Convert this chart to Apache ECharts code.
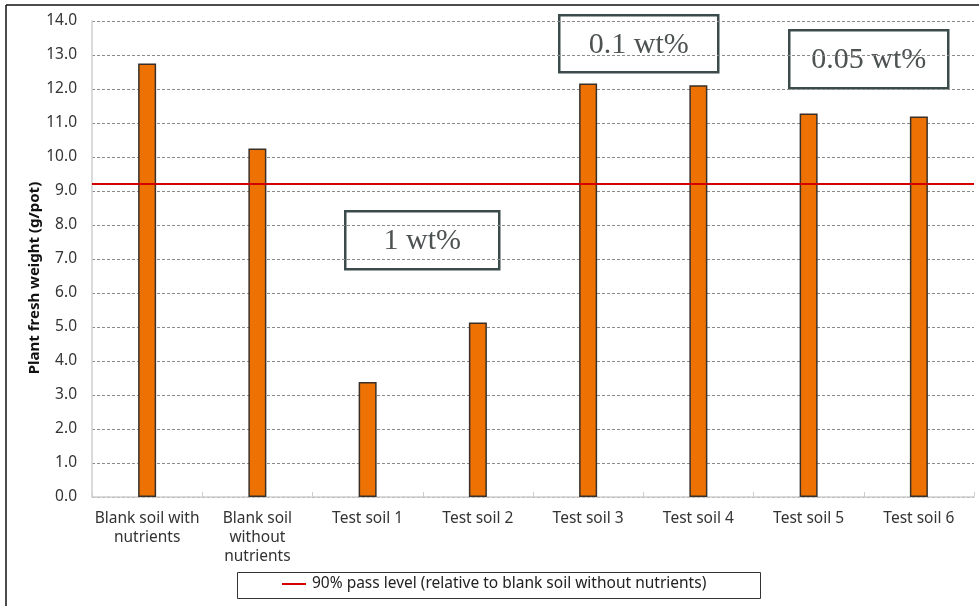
<!DOCTYPE html>
<html>
<head>
<meta charset="utf-8">
<script src="https://cdn.jsdelivr.net/npm/echarts@6/dist/echarts.min.js"></script>
<style>
  html, body { margin: 0; padding: 0; background: #fff; }
  #chart { width: 979px; height: 606px; }
</style>
</head>
<body>
<div id="chart"></div>
<script>
// Soil categories along the x axis
const categories = [
  'Blank soil with\nnutrients',
  'Blank soil\nwithout\nnutrients',
  'Test soil 1',
  'Test soil 2',
  'Test soil 3',
  'Test soil 4',
  'Test soil 5',
  'Test soil 6'
];
// Plant fresh weight per pot (g)
const freshWeight = [12.75, 10.25, 3.38, 5.13, 12.16, 12.11, 11.28, 11.19];
// Pass threshold: 90% of the blank soil without nutrients
const passLevel = 9.225;
const passLabel = '90% pass level (relative to blank soil without nutrients)';
const yTitle = 'Plant fresh weight (g/pot)';
// Dose labels shown in the boxes
const doseLabels = ['1 wt%', '0.1 wt%', '0.05 wt%'];

const FONT = 'Noto Sans';
const chart = echarts.init(document.getElementById('chart'));

function doseBox(x, y, w, h, text) {
  return {
    type: 'group', left: x, top: y, z: 100,
    children: [
      { type: 'rect', shape: { x: 0, y: 0, width: w, height: h },
        style: { fill: '#fff', stroke: '#3b4a4a', lineWidth: 2.5 } },
      { type: 'text', x: w / 2, y: h / 2 + 1,
        style: { text: text, fill: '#4d5252', font: '30px "Liberation Serif"',
                 textAlign: 'center', textVerticalAlign: 'middle' } }
    ]
  };
}

chart.setOption({
  animation: false,
  textStyle: { fontFamily: FONT },
  grid: { left: 92, right: 5, top: 21, bottom: 109, containLabel: false },
  legend: {
    data: [{ name: passLabel, icon: 'path://M0,0 L24,0 L24,2 L0,2 Z' }],
    left: 282, top: 576, itemWidth: 24, itemHeight: 2, itemGap: 0, padding: 0,
    textStyle: { fontFamily: FONT, fontSize: 15.5, color: '#222', padding: [0, 0, 0, 1] }
  },
  xAxis: {
    type: 'category',
    data: categories,
    axisLine: { lineStyle: { color: '#cfcfcf', width: 1.5 } },
    axisTick: { show: true, inside: true, length: 5, lineStyle: { color: '#cfcfcf' } },
    axisLabel: { color: '#333', fontSize: 15.5, lineHeight: 19, margin: 12, interval: 0 }
  },
  yAxis: {
    type: 'value',
    min: 0, max: 14, interval: 1,
    axisLine: { show: true, lineStyle: { color: '#cfcfcf', width: 1.5 } },
    axisTick: { show: false },
    axisLabel: { color: '#333', fontSize: 15.5, margin: 15,
                 formatter: v => v.toFixed(1) },
    splitLine: { lineStyle: { color: '#8a8a8a', type: [3, 2], width: 1 } }
  },
  series: [
    {
      type: 'bar',
      data: freshWeight,
      barWidth: 18,
      itemStyle: { color: '#EE7203', borderColor: '#3a3028', borderWidth: 1.5 },
      z: 2
    },
    {
      name: passLabel,
      type: 'line',
      data: [],
      itemStyle: { color: '#d40000' },
      lineStyle: { color: '#d40000', width: 2 },
      markLine: {
        symbol: 'none', silent: true,
        label: { show: false },
        lineStyle: { color: '#d40000', width: 2, type: 'solid' },
        data: [{ yAxis: passLevel }]
      },
      z: 5
    }
  ],
  graphic: [
    // outer frame edges
    { type: 'line', shape: { x1: 6, y1: 5, x2: 979, y2: 5 }, style: { stroke: '#111', lineWidth: 1.5 }, z: 100 },
    { type: 'line', shape: { x1: 6, y1: 5, x2: 6, y2: 606 }, style: { stroke: '#111', lineWidth: 1.5 }, z: 100 },
    // y axis title
    { type: 'text', x: 35, y: 278, rotation: Math.PI / 2, z: 100,
      style: { text: yTitle, fill: '#111', font: 'bold 15px "Noto Sans"',
               textAlign: 'center', textVerticalAlign: 'middle' } },
    // legend frame
    { type: 'rect', shape: { x: 237.5, y: 572.5, width: 523, height: 26 },
      style: { fill: 'none', stroke: '#333', lineWidth: 1 }, z: 100 },
    doseBox(344, 210, 154, 58, doseLabels[0]),
    doseBox(558, 14, 159, 57, doseLabels[1]),
    doseBox(788, 29, 159, 58, doseLabels[2])
  ]
});
</script>
</body>
</html>
